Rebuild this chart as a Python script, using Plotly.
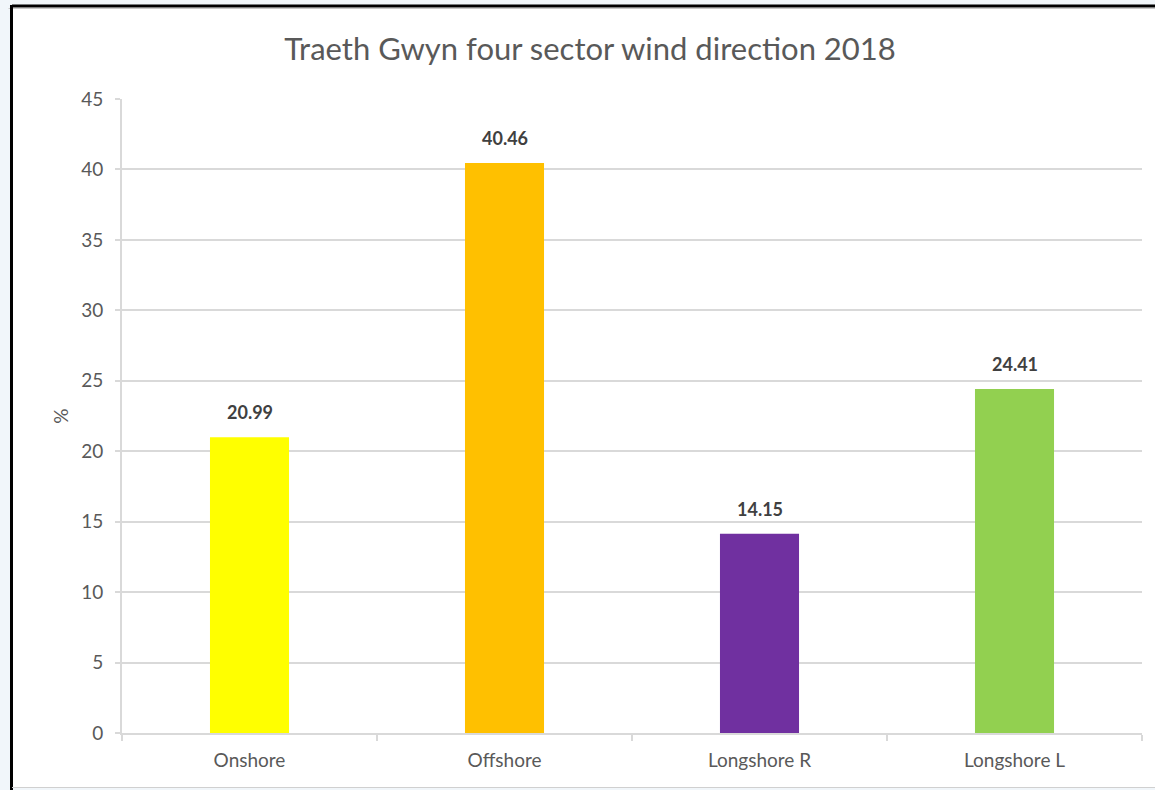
import plotly.graph_objects as go

# Four sector wind direction shares, Traeth Gwyn 2018
sectors = ["Onshore", "Offshore", "Longshore R", "Longshore L"]
percent = [20.99, 40.46, 14.15, 24.41]
bar_colors = ["#FFFF00", "#FFC000", "#7030A0", "#92D050"]
y_ticks = [0, 5, 10, 15, 20, 25, 30, 35, 40, 45]

W, H = 1155, 790
L, R, T, B = 122, 13, 99, 57
pw, ph = W - L - R, H - T - B
FONT = "Lato, Open Sans, sans-serif"


def px_x(x):
    return (x - L) / pw


def px_y(y):
    return (H - B - y) / ph


fig = go.Figure()
fig.add_trace(go.Bar(
    x=sectors,
    y=percent,
    marker=dict(color=bar_colors, line=dict(width=0)),
    width=0.31,
    hoverinfo="x+y",
))

# value labels above each bar
for s, v in zip(sectors, percent):
    fig.add_annotation(
        x=s, y=v, text=f"<b>{v:.2f}</b>", showarrow=False,
        yanchor="bottom", yshift=12,
        font=dict(family=FONT, size=18, color="#404040"),
    )

grey = "#D9D9D9"
fig.update_layout(
    width=W, height=H,
    margin=dict(l=L, r=R, t=T, b=B),
    paper_bgcolor="#F1F6FA",
    plot_bgcolor="rgba(0,0,0,0)",
    showlegend=False,
    bargap=0.69,
    title=dict(
        text="Traeth Gwyn four sector wind direction 2018",
        x=590 / W, xanchor="center", xref="container",
        y=1 - 49 / H, yanchor="middle", yref="container",
        font=dict(family=FONT, size=31, color="#595959"),
    ),
    font=dict(family=FONT, color="#595959"),
    xaxis=dict(
        type="category",
        showgrid=False,
        showline=True, linecolor=grey, linewidth=2,
        ticks="outside", tickson="boundaries", ticklen=6, tickcolor=grey, tickwidth=2,
        tickfont=dict(size=19, color="#595959"),
        ticklabelstandoff=9,
        zeroline=False,
    ),
    yaxis=dict(
        range=[0, 45],
        tickvals=y_ticks,
        showgrid=True, gridcolor=grey, gridwidth=2,
        showline=True, linecolor=grey, linewidth=2,
        ticks="outside", ticklen=5, tickcolor=grey, tickwidth=2,
        tickfont=dict(size=19, color="#595959"),
        ticklabelstandoff=8,
        zeroline=False,
        title=dict(text="%", font=dict(size=19, color="#595959"), standoff=8),
    ),
)

# white chart card with black frame on top and left edges
fig.add_shape(type="rect", xref="paper", yref="paper", layer="below",
              x0=px_x(12), x1=px_x(W + 5), y0=px_y(787), y1=px_y(6),
              fillcolor="white", line=dict(width=0))
fig.add_shape(type="line", xref="paper", yref="paper",
              x0=px_x(12), x1=px_x(W + 5), y0=px_y(6), y1=px_y(6),
              line=dict(color="#000000", width=3))
fig.add_shape(type="line", xref="paper", yref="paper",
              x0=px_x(8.5), x1=px_x(W + 5), y0=px_y(8.5), y1=px_y(8.5),
              line=dict(color="#C8C8C8", width=1))
fig.add_shape(type="line", xref="paper", yref="paper",
              x0=px_x(11.5), x1=px_x(11.5), y0=px_y(5), y1=px_y(790),
              line=dict(color="#000000", width=3))
fig.add_shape(type="line", xref="paper", yref="paper",
              x0=px_x(12), x1=px_x(W + 5), y0=px_y(787.5), y1=px_y(787.5),
              line=dict(color="#D0D0D0", width=1))

fig.write_html("out.html")
